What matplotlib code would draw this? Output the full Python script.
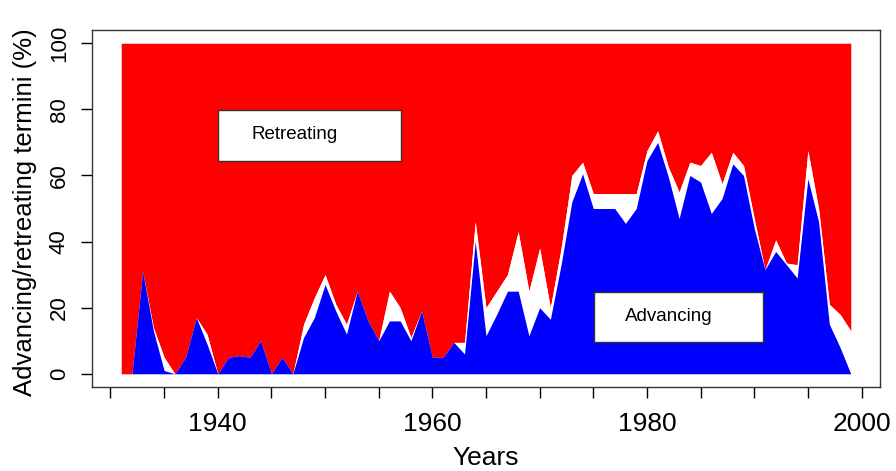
import numpy as np
import matplotlib
matplotlib.use("Agg")
import matplotlib.pyplot as plt
from matplotlib.patches import Rectangle

# years of record
years = list(range(1931, 2000))

# advancing termini (%)
advancing = [0, 0, 31, 13, 1, 0, 5, 17, 9, 0,
             5, 5.5, 5, 10, 0, 5, 0, 11, 17, 27,
             19, 12, 25, 16, 10, 16, 16, 10, 19, 5,
             5, 9.5, 6, 40, 11.5, 18, 25, 25, 11.5, 20,
             16.5, 33, 52, 60.5, 50, 50, 50, 45.5, 50, 64.5,
             70, 59.5, 47, 60, 58, 48.5, 53, 63.5, 60, 44,
             31.5, 37, 33, 29, 59, 46, 15, 8, 0]

# advancing + stationary termini (%)
adv_stat = [0, 0, 31, 14, 5, 0, 5, 17, 12, 0,
            5, 5.5, 5, 10, 0, 5, 0, 15, 23, 30,
            21, 15, 25, 16, 10, 25, 20, 11, 19, 5,
            5, 9.5, 9.5, 46, 20, 25, 30, 43, 25, 38,
            20, 38, 60, 64, 54.5, 54.5, 54.5, 54.5, 54.5, 67.5,
            73.5, 62.5, 55, 64, 63, 67, 57.5, 67, 63, 47,
            31.5, 40.5, 33.5, 33, 67.5, 50, 21, 18, 13]

x_ticks = list(range(1930, 2001, 5))
x_labels = ["1940", "1960", "1980", "2000"]
y_ticks = [0, 20, 40, 60, 80, 100]


def main():
	plt.rcParams['font.family'] = ['Liberation Sans', 'DejaVu Sans']
	fig = plt.figure(figsize=(8.96, 4.71), dpi=100)
	ax = fig.add_axes([0.1027, 0.1783, 0.8794, 0.758])

	yrs = np.array(years)
	adv = np.array(advancing)
	tot = np.array(adv_stat)

	ax.fill_between(yrs, tot, 100, color='#ff0000', lw=0)
	ax.fill_between(yrs, adv, tot, color='white', lw=0)
	ax.fill_between(yrs, 0, adv, color='#0000ff', lw=0)

	ax.set_xlim(1928.28, 2001.72)
	ax.set_ylim(-4, 104)

	ax.set_xticks(x_ticks)
	ax.set_xticklabels([str(t) if str(t) in x_labels else "" for t in x_ticks])
	ax.set_yticks(y_ticks)
	ax.set_yticklabels([str(t) for t in y_ticks], rotation=90, va='center')
	ax.tick_params(axis='x', length=8, width=1, pad=10, labelsize=19)
	ax.tick_params(axis='y', length=8, width=1, pad=8, labelsize=16)
	for s in ax.spines.values():
		s.set_linewidth(1)
		s.set_color('#333333')

	ax.set_xlabel("Years", fontsize=19, va='center')
	ax.set_ylabel("Advancing/retreating termini (%)", fontsize=18.5, va='center')
	ax.xaxis.set_label_coords(0.5, -0.2)
	ax.yaxis.set_label_coords(-0.085, 0.49)

	# label boxes
	ax.add_patch(Rectangle((1940.05, 64.5), 17.0, 15.3, facecolor='white', edgecolor='#333333', lw=1, zorder=3))
	ax.text(1943.15, 72.5, "Retreating", fontsize=13.5, va='center', ha='left', zorder=4)
	ax.add_patch(Rectangle((1975.05, 9.5), 15.75, 15.1, facecolor='white', edgecolor='#333333', lw=1, zorder=3))
	ax.text(1977.95, 17.2, "Advancing", fontsize=13.5, va='center', ha='left', zorder=4)

	fig.savefig("out.png", dpi=100)


if __name__ == '__main__':
	main()
